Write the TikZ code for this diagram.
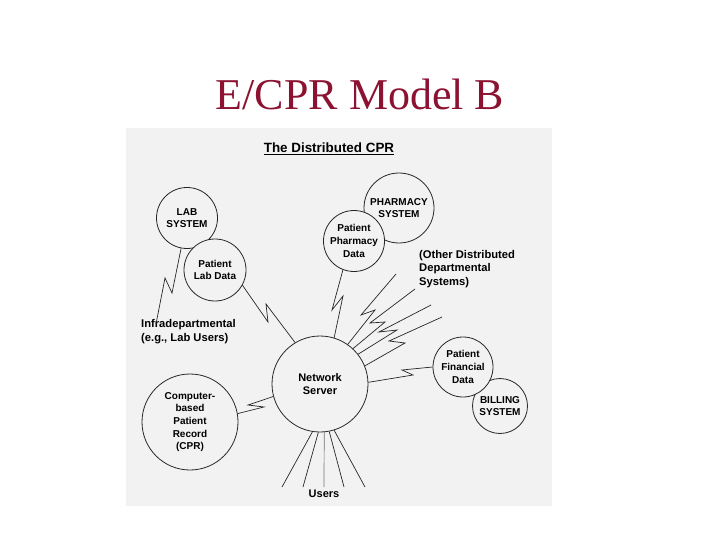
\documentclass[tikz,border=0pt]{standalone}
\usepackage{fontspec}
\setmainfont{Liberation Serif}
\setsansfont{Liberation Sans}
\usetikzlibrary{shapes.geometric, positioning, calc}
\definecolor{slidetitle}{RGB}{140,18,50}

\begin{document}
\begin{tikzpicture}[x=1pt, y=-1pt,
    font=\sffamily\bfseries\fontsize{10}{12.7}\selectfont,
    unit/.style={circle, draw=black!85, fill=black!5, line width=0.8pt, inner sep=0pt, align=center},
    note/.style={align=left, inner sep=0pt, font=\sffamily\bfseries\fontsize{11.2}{13.8}\selectfont},
    link/.style={draw=black!85, line width=0.7pt, line join=miter},
    scan/.style={fill=black!5}
  ]
    \useasboundingbox (0,0) rectangle (720,540);
    \fill[scan] (126,128) rectangle (552,506);

    \node[anchor=base, font=\rmfamily\fontsize{44}{48}\selectfont, text=slidetitle] (title) at (360,110) {E/CPR Model B};
    \node[font=\sffamily\bfseries\fontsize{13.4}{15}\selectfont] (head) at (329,149) {\underline{The Distributed CPR}};

    \node[unit, minimum size=61pt] (labsys) at (187,218) {LAB\\SYSTEM};
    \node[unit, minimum size=62pt] (labdata) at (215,270) {Patient\\Lab Data};
    \node[unit, minimum size=70pt] (pharmsys) at (399,208) {PHARMACY\\SYSTEM};
    \node[unit, minimum size=61pt] (pharmdata) at (354,241) {Patient\\Pharmacy\\Data};
    \node[unit, minimum size=96pt, font=\sffamily\bfseries\fontsize{11}{13.5}\selectfont] (server) at (320,384) {Network\\Server};
    \node[unit, minimum size=96pt] (cpr) at (190,422) {Computer-\\based\\Patient\\Record\\(CPR)};
    \node[unit, minimum size=55pt] (billing) at (500,406) {BILLING\\SYSTEM};
    \node[unit, minimum size=60pt] (findata) at (463,367) {Patient\\Financial\\Data};

    \node[note, anchor=west] (infra) at (141,332) {Infradepartmental\\(e.g., Lab Users)};
    \node[note, anchor=west] (others) at (419,269) {(Other Distributed\\Departmental\\Systems)};
    \node[font=\sffamily\bfseries\fontsize{11}{13}\selectfont] (users) at (324,494) {Users};

    % free ends of the links
    \coordinate (labusers) at (156,324);
    \coordinate (o1) at (396,274);
    \coordinate (o2) at (415,289);
    \coordinate (o3) at (431,305);
    \coordinate (o4) at (442,317);
    \coordinate (u1) at (282,487);
    \coordinate (u2) at (303,487);
    \coordinate (u3) at (324,487);
    \coordinate (u4) at (344,487);
    \coordinate (u5) at (365,487);

    % lightning links
    \draw[link] (labsys.259) -- (172,293) -- (165,278) -- (labusers);
    \draw[link] (labdata.331) -- (268,322) -- (266,304) -- (server.121);
    \draw[link] (pharmdata.249) -- (332,310) -- (343,296) -- (server.73);
    \draw[link] (o1) -- (361,315) -- (375,310) -- (server.55);
    \draw[link] (o2) -- (370,323) -- (385,322) -- (server.47);
    \draw[link] (o3) -- (379,332) -- (397,330) -- (server.38);
    \draw[link] (o4) -- (389,341) -- (405,343) -- (server.22);
    \draw[link] (server.2) -- (413,375) -- (402,370) -- (findata.west);
    \draw[link] (cpr.10) -- (264,407) -- (248,405) -- (server.195);

    % users
    \draw[link] (server.261) -- (u1);
    \draw[link] (server.268) -- (u2);
    \draw[link, draw=black!55] (server.275) -- (u3);
    \draw[link] (server.281) -- (u4);
    \draw[link] (server.287) -- (u5);
  \end{tikzpicture}
\end{document}
